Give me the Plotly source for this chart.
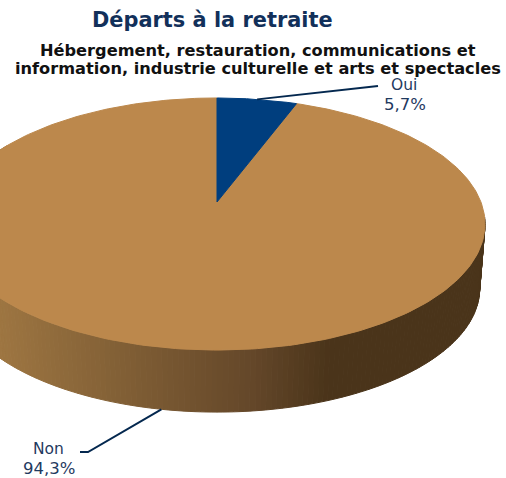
import numpy as np
import plotly.graph_objects as go

# Data
categories = ["Oui", "Non"]
values = [5.7, 94.3]
value_labels = ["5,7%", "94,3%"]
title_text = "Départs à la retraite"
subtitle_lines = ["Hébergement, restauration, communications et",
                  "information, industrie culturelle et arts et spectacles"]

# Style
slice_colors = ["#003e7e", "#bc884c"]
side_stops_x = [0, 120, 250, 330, 510]
side_stops_rgb = [(158, 118, 66), (130, 96, 54), (101, 72, 42), (74, 52, 26), (74, 52, 26)]
NAVY = "#1f3a5f"
LINE = "#04284f"
W, H = 506, 478
CX, CY, SX, SY, P = 217.0, 202.0, 263.9, 122.2, 0.1746
DEPTH_CY, DEPTH_SCALE = 267.0, 0.98


def project(t, cy=CY, s=1.0):
    X, Y = np.sin(t), np.cos(t)
    w = 1 + P * Y
    return CX + s * SX * X / w, cy - s * SY * Y / w


def side_color(x):
    c = [np.interp(x, side_stops_x, [r[i] for r in side_stops_rgb]) for i in range(3)]
    return "rgb(%d,%d,%d)" % tuple(c)


fig = go.Figure()

# side wall, as thin strips shaded left to right
edges = np.radians(np.linspace(97, 300, 204))
for a, b in zip(edges[:-1], edges[1:]):
    ts = np.array([a, b])
    xt, yt = project(ts)
    xb, yb = project(ts, DEPTH_CY, DEPTH_SCALE)
    col = side_color((xt.mean() + xb.mean()) / 2)
    fig.add_trace(go.Scatter(
        x=[xt[0], xt[1], xb[1], xb[0], xt[0]], y=[yt[0], yt[1], yb[1], yb[0], yt[0]],
        mode="lines", fill="toself", fillcolor=col,
        line=dict(color=col, width=1), hoverinfo="skip", showlegend=False))

# top face, slices from the values
shares = np.array(values) / np.sum(values)
starts = np.concatenate([[0], np.cumsum(shares)[:-1]]) * 2 * np.pi
ends = np.cumsum(shares) * 2 * np.pi
for i in [1, 0]:
    ts = np.linspace(starts[i], ends[i], 300)
    xs, ys = project(ts)
    fig.add_trace(go.Scatter(
        x=np.r_[CX, xs, CX], y=np.r_[CY, ys, CY],
        mode="lines", fill="toself", fillcolor=slice_colors[i],
        line=dict(color=slice_colors[i], width=1),
        name=categories[i], hoverinfo="name", showlegend=False))

# leader lines start at the middle of each slice
mid = (starts + ends) / 2
ax, ay = project(mid[0])
fig.add_trace(go.Scatter(x=[ax, 378], y=[ay, 86], mode="lines",
                         line=dict(color=LINE, width=2), hoverinfo="skip", showlegend=False))
bx, by = project(mid[1], DEPTH_CY, DEPTH_SCALE)
fig.add_trace(go.Scatter(x=[bx, 88, 80], y=[by, 452, 452], mode="lines",
                         line=dict(color=LINE, width=2), hoverinfo="skip", showlegend=False))


def text(x, y, s, size, color, bold=False):
    fig.add_annotation(x=x, y=y, xref="x", yref="y", text=f"<b>{s}</b>" if bold else s,
                       showarrow=False, xanchor="center", yanchor="middle",
                       font=dict(family="DejaVu Sans", size=size, color=color))


text(212, 20, title_text, 20.9, "#12305a", True)
text(258, 50, subtitle_lines[0], 16.2, "#111111", True)
text(258, 68, subtitle_lines[1], 16.2, "#111111", True)
text(404, 85, categories[0], 15.5, NAVY)
text(405, 104, value_labels[0], 16.5, NAVY)
text(48, 449, categories[1], 15.5, NAVY)
text(49, 468, value_labels[1], 16.5, NAVY)

fig.update_layout(
    width=W, height=H, autosize=False, margin=dict(l=0, r=0, t=0, b=0),
    paper_bgcolor="white", plot_bgcolor="white", showlegend=False,
    xaxis=dict(range=[0, W], visible=False, fixedrange=True),
    yaxis=dict(range=[H, 0], visible=False, fixedrange=True),
)
fig.write_html("out.html", config={"displayModeBar": False},
               post_script="document.body.style.margin='0';document.documentElement.style.overflow='hidden';")
